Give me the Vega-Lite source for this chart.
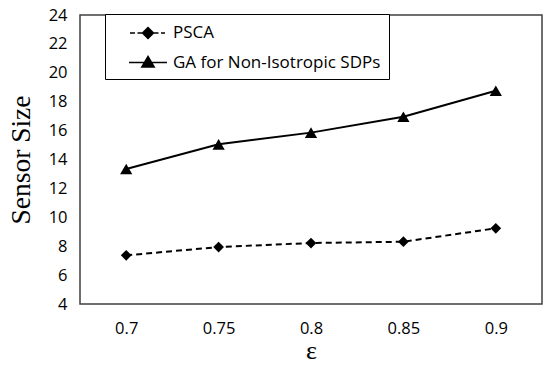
{
  "$schema": "https://vega.github.io/schema/vega-lite/v6.json",
  "width": 462,
  "height": 289,
  "autosize": {"type": "none"},
  "padding": {"left": 80, "top": 15, "right": 8, "bottom": 63},
  "background": "white",
  "config": {
    "view": {"stroke": "#404040", "strokeWidth": 1.5},
    "axis": {"grid": false, "domain": false, "ticks": false, "labelColor": "black", "titleColor": "black"}
  },
  "data": {
    "values": [
      {"eps": "0.7", "series": "PSCA", "value": 7.37},
      {"eps": "0.75", "series": "PSCA", "value": 7.94},
      {"eps": "0.8", "series": "PSCA", "value": 8.22},
      {"eps": "0.85", "series": "PSCA", "value": 8.31},
      {"eps": "0.9", "series": "PSCA", "value": 9.24},
      {"eps": "0.7", "series": "GA for Non-Isotropic SDPs", "value": 13.34},
      {"eps": "0.75", "series": "GA for Non-Isotropic SDPs", "value": 15.05},
      {"eps": "0.8", "series": "GA for Non-Isotropic SDPs", "value": 15.86},
      {"eps": "0.85", "series": "GA for Non-Isotropic SDPs", "value": 16.96},
      {"eps": "0.9", "series": "GA for Non-Isotropic SDPs", "value": 18.76}
    ]
  },
  "encoding": {
    "x": {
      "field": "eps", "type": "ordinal",
      "sort": ["0.7", "0.75", "0.8", "0.85", "0.9"],
      "scale": {"type": "point", "padding": 0.5},
      "axis": {"title": "ε", "labelAngle": 0, "labelFont": "Open Sans", "labelFontSize": 16.5, "labelPadding": 16,
               "titleFont": "Liberation Serif", "titleFontSize": 26, "titleFontWeight": "normal", "titlePadding": 1}
    },
    "y": {
      "field": "value", "type": "quantitative",
      "scale": {"domain": [4, 24], "nice": false, "zero": false},
      "axis": {"title": "Sensor Size", "values": [4, 6, 8, 10, 12, 14, 16, 18, 20, 22, 24],
               "labelFont": "Open Sans", "labelFontSize": 16.5, "labelPadding": 13,
               "titleFont": "Liberation Serif", "titleFontSize": 27.5, "titleFontWeight": "normal", "titlePadding": 13}
    }
  },
  "layer": [
    {
      "transform": [{"filter": "datum.series == 'PSCA'"}],
      "mark": {"type": "line", "color": "black", "strokeWidth": 2, "strokeDash": [6, 4]},
      "encoding": {}
    },
    {
      "transform": [{"filter": "datum.series != 'PSCA'"}],
      "mark": {"type": "line", "color": "black", "strokeWidth": 2},
      "encoding": {}
    },
    {
      "transform": [{"filter": "datum.series == 'PSCA'"}],
      "mark": {"type": "point", "filled": true, "color": "black", "opacity": 1, "shape": "diamond", "size": 115}
    },
    {
      "transform": [{"filter": "datum.series != 'PSCA'"}],
      "mark": {"type": "point", "filled": true, "color": "black", "opacity": 1, "shape": "triangle-up", "size": 150}
    },
    {
      "mark": {"type": "point", "filled": true, "color": "black", "stroke": "black", "strokeWidth": 1.8, "opacity": 1, "size": 0},
      "encoding": {
        "shape": {
          "field": "series", "type": "nominal",
          "scale": {
            "domain": ["PSCA", "GA for Non-Isotropic SDPs"],
            "range": [
              "M-1.8,0H-1.3M-1.05,0H-0.6M0.6,0H1.05M1.3,0H1.7M0,-0.55L0.55,0L0,0.55L-0.55,0Z",
              "M-1.9,0H1.9M0,-0.6L0.62,0.45L-0.62,0.45Z"
            ]
          },
          "legend": {
            "orient": "none", "legendX": 25, "legendY": -1, "title": null,
            "padding": 8, "symbolOffset": 24, "labelOffset": 14, "rowPadding": 9.5, "labelLimit": 400,
            "strokeColor": "black", "fillColor": "white",
            "symbolSize": 400,
            "labelFont": "Open Sans", "labelFontSize": 17, "labelColor": "black",
            "labelExpr": "datum.label + '\u2003\u00a0'"
          }
        }
      }
    }
  ]
}
